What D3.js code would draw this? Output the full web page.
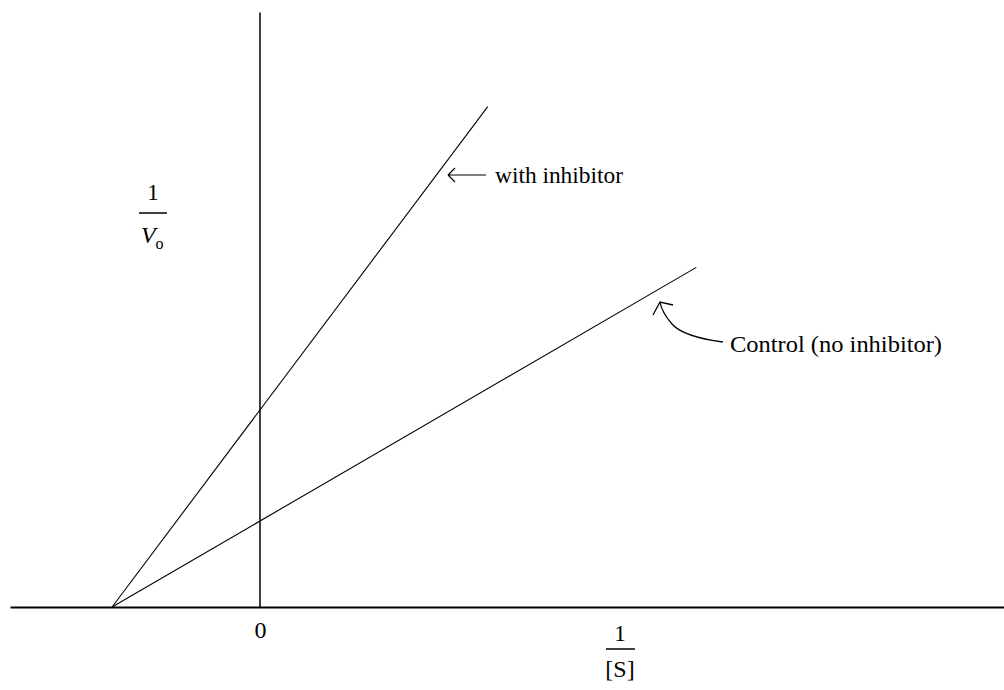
<!DOCTYPE html>
<html>
<head>
<meta charset="utf-8">
<script src="https://cdn.jsdelivr.net/npm/d3@7"></script>
<style>
  html, body { margin: 0; padding: 0; background: #fff; }
  svg { display: block; }
  text { font-family: "Liberation Serif", "Times New Roman", serif; fill: #000; }
</style>
</head>
<body>
<svg id="chart" width="1004" height="690"></svg>
<script>
// Data (Lineweaver-Burk plot, noncompetitive inhibition)
const xDomain = [-1.69, 5.03];          // 1/[S] extent shown
const yDomain = [0, 6.92];              // 1/V0 extent shown
const xTickValues = [0];
const xTickLabels = ["0"];
const controlX = [-1, 2.95];
const controlY = [0, 3.95];
const inhibitorX = [-1, 1.54];
const inhibitorY = [0, 5.82];
const seriesLabels = ["with inhibitor", "Control (no inhibitor)"];

const svg = d3.select("#chart");
const x = d3.scaleLinear().domain(xDomain).range([10, 1004]);
const y = d3.scaleLinear().domain(yDomain).range([607, 12]);

// X axis
const xAxis = svg.append("g")
  .attr("transform", `translate(0,${y(0)})`)
  .call(d3.axisBottom(x).tickValues(xTickValues)
        .tickFormat((d, i) => xTickLabels[i]).tickSize(0).tickSizeOuter(0));
xAxis.select(".domain").attr("stroke", "#000").attr("stroke-width", 2);
xAxis.selectAll(".tick text")
  .attr("font-family", "Liberation Serif, serif")
  .attr("font-size", 24).attr("y", 31).attr("dy", 0).attr("fill", "#000");

// Y axis
const yAxis = svg.append("g")
  .attr("transform", `translate(${x(0) - 0.5},0)`)
  .call(d3.axisLeft(y).tickValues([]).tickSizeOuter(0));
yAxis.select(".domain").attr("stroke", "#000").attr("stroke-width", 1.5);

// Lines
const line = d3.line().x(d => x(d[0])).y(d => y(d[1]));
const series = [
  d3.zip(inhibitorX, inhibitorY),
  d3.zip(controlX, controlY)
];
svg.selectAll("path.series").data(series).join("path")
  .attr("class", "series")
  .attr("d", line)
  .attr("fill", "none")
  .attr("stroke", "#000")
  .attr("stroke-width", 1.1);

// Y axis label 1 / V0
const yl = svg.append("g");
yl.append("text").attr("x", 153).attr("y", 200).attr("text-anchor", "middle")
  .attr("font-size", 23).text("1");
yl.append("line").attr("x1", 139).attr("x2", 167).attr("y1", 213).attr("y2", 213)
  .attr("stroke", "#000").attr("stroke-width", 1.5);
yl.append("text").attr("x", 141).attr("y", 243).attr("font-size", 24)
  .attr("font-style", "italic").text("V");
yl.append("text").attr("x", 155.5).attr("y", 249).attr("font-size", 16).text("o");

// X axis label 1 / [S]
const xl = svg.append("g");
xl.append("text").attr("x", 620).attr("y", 641).attr("text-anchor", "middle")
  .attr("font-size", 23).text("1");
xl.append("line").attr("x1", 606).attr("x2", 635).attr("y1", 649).attr("y2", 649)
  .attr("stroke", "#000").attr("stroke-width", 1.5);
xl.append("text").attr("x", 620).attr("y", 677).attr("text-anchor", "middle")
  .attr("font-size", 24).text("[S]");

// Annotation: with inhibitor
const a1 = svg.append("g").attr("fill", "none").attr("stroke", "#000").attr("stroke-width", 1.2);
a1.append("path").attr("d", "M448,175 L486,175 M448,175 L455,168 M448,175 L455,182");
svg.append("text").attr("x", 495).attr("y", 183).attr("font-size", 24)
  .attr("textLength", 128).attr("lengthAdjust", "spacingAndGlyphs").text(seriesLabels[0]);

// Annotation: control (curved arrow)
const a2 = svg.append("g").attr("fill", "none").attr("stroke", "#000").attr("stroke-width", 1.3);
a2.append("path").attr("d", "M723,342 C700,339 680,333 672,324 C665,316 661,308 660,302");
a2.append("path").attr("d", "M653,315 L660,302 L673,305");
svg.append("text").attr("x", 730).attr("y", 352).attr("font-size", 24)
  .attr("textLength", 212).attr("lengthAdjust", "spacingAndGlyphs").text(seriesLabels[1]);
</script>
</body>
</html>
